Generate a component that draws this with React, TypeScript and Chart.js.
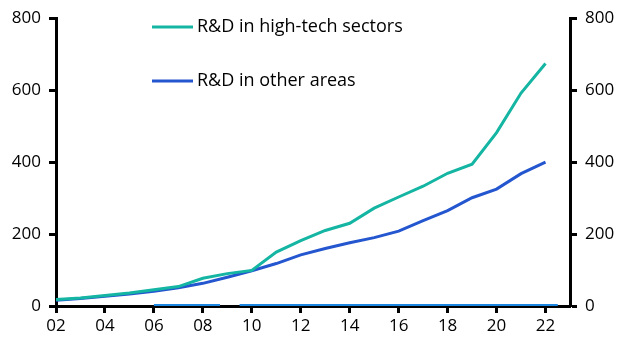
import React, { useEffect, useRef } from "react";
import { Chart, registerables } from "chart.js";

Chart.register(...registerables);

const years = [2002, 2003, 2004, 2005, 2006, 2007, 2008, 2009, 2010, 2011, 2012, 2013, 2014, 2015, 2016, 2017, 2018, 2019, 2020, 2021, 2022];
const highTech = [18, 22, 29, 36, 45, 54, 77, 90, 99, 150, 182, 210, 230, 272, 303, 333, 369, 394, 482, 592, 674];
const otherAreas = [16, 21, 27, 33, 41, 51, 63, 80, 98, 118, 142, 160, 176, 190, 208, 237, 265, 301, 325, 368, 400];
const zeroLineX = [2006, 2008.7, 2009.1, 2009.5, 2022.5];
const zeroLineY = [3, 3, null, 3, 3];
const xTickYears = [2002, 2004, 2006, 2008, 2010, 2012, 2014, 2016, 2018, 2020, 2022];
const xTickLabels = ["02", "04", "06", "08", "10", "12", "14", "16", "18", "20", "22"];
const yTicks = [0, 200, 400, 600, 800];
const seriesLabels = ["R&D in high-tech sectors", "R&D in other areas"];

const TEAL = "#14b5a2";
const BLUE = "#2456cf";
const ZERO_BLUE = "#1c86e0";
const FONT = "'Open Sans', sans-serif";

const legendPlugin = {
  id: "customLegend",
  afterDraw(chart: any) {
    const ctx = chart.ctx;
    const items = [
      { label: seriesLabels[0], color: TEAL, y: 27 },
      { label: seriesLabels[1], color: BLUE, y: 81 },
    ];
    ctx.save();
    items.forEach((it) => {
      ctx.strokeStyle = it.color;
      ctx.lineWidth = 3;
      ctx.beginPath();
      ctx.moveTo(152, it.y);
      ctx.lineTo(193, it.y);
      ctx.stroke();
      ctx.fillStyle = "#000";
      ctx.font = `18px ${FONT}`;
      ctx.textBaseline = "middle";
      ctx.textAlign = "left";
      ctx.fillText(it.label, 197, it.y);
    });
    ctx.restore();
  },
};

export default function App() {
  const ref = useRef<HTMLCanvasElement | null>(null);
  useEffect(() => {
    document.body.style.margin = "0";
    const canvas = ref.current!;
    const tickStyle = {
      color: "#000",
      font: { family: FONT, size: 17 },
    };
    const gridStyle = { display: true, drawOnChartArea: false, drawTicks: true, tickLength: 7, tickWidth: 3, color: "#000" };
    const borderStyle = { display: true, width: 3, color: "#000", z: -1 };
    const chart = new Chart(canvas, {
      type: "line",
      data: {
        datasets: [
          {
            label: seriesLabels[0],
            data: years.map((x, i) => ({ x, y: highTech[i] })),
            borderColor: TEAL,
            borderWidth: 3,
            pointRadius: 0,
            tension: 0,
          },
          {
            label: seriesLabels[1],
            data: years.map((x, i) => ({ x, y: otherAreas[i] })),
            borderColor: BLUE,
            borderWidth: 3,
            pointRadius: 0,
            tension: 0,
          },
          {
            label: "zero",
            data: zeroLineX.map((x, i) => ({ x, y: zeroLineY[i] as any })),
            borderColor: ZERO_BLUE,
            borderWidth: 2,
            pointRadius: 0,
            spanGaps: false,
          },
        ],
      },
      options: {
        animation: false,
        responsive: false,
        maintainAspectRatio: false,
        layout: { padding: { top: 16, left: 0, right: 0, bottom: 0 } },
        plugins: { legend: { display: false }, tooltip: { enabled: false } },
        scales: {
          x: {
            type: "linear",
            min: 2002,
            max: 2023,
            afterBuildTicks: (scale: any) => {
              scale.ticks = xTickYears.map((v) => ({ value: v }));
            },
            afterFit: (scale: any) => {
              scale.height = 46;
            },
            ticks: {
              ...tickStyle,
              padding: 3,
              maxRotation: 0,
              autoSkip: false,
              callback: (v: any) => {
                const i = xTickYears.indexOf(Number(v));
                return i >= 0 ? xTickLabels[i] : "";
              },
            },
            grid: gridStyle,
            border: borderStyle,
          },
          y: {
            position: "left",
            min: 0,
            max: 800,
            afterBuildTicks: (scale: any) => {
              scale.ticks = yTicks.map((v) => ({ value: v }));
            },
            afterFit: (scale: any) => {
              scale.width = 56;
            },
            ticks: { ...tickStyle, padding: 8 },
            grid: gridStyle,
            border: borderStyle,
          },
          y2: {
            position: "right",
            min: 0,
            max: 800,
            afterBuildTicks: (scale: any) => {
              scale.ticks = yTicks.map((v) => ({ value: v }));
            },
            afterFit: (scale: any) => {
              scale.width = 57;
            },
            ticks: { ...tickStyle, padding: 8 },
            grid: gridStyle,
            border: borderStyle,
          },
        },
      },
      plugins: [legendPlugin],
    } as any);
    return () => chart.destroy();
  }, []);
  return (
    <div style={{ width: 627, height: 352, position: "relative", background: "#fff" }}>
      <canvas ref={ref} width={627} height={352} style={{ width: 627, height: 352, display: "block" }} />
    </div>
  );
}
